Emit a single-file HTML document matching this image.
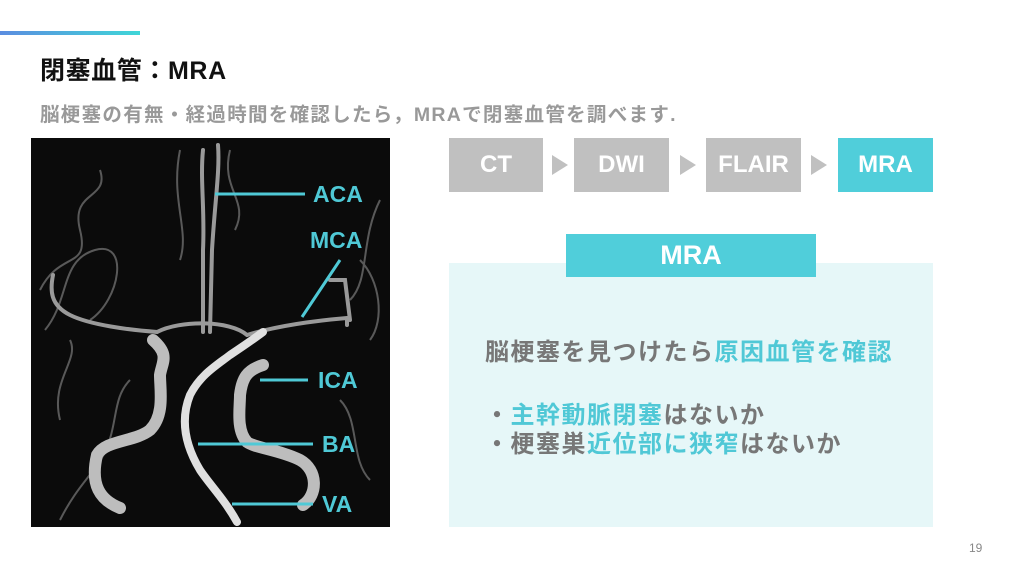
<!DOCTYPE html>
<html><head><meta charset="utf-8"><style>
*{margin:0;padding:0;box-sizing:border-box}
body{width:1024px;height:576px;background:#fff;position:relative;overflow:hidden;font-family:"Liberation Sans","Noto Sans CJK JP",sans-serif}
.a{position:absolute}
.bar{left:0;top:31px;width:140px;height:4px;background:linear-gradient(90deg,#5b8de0,#3fd6d8)}
.title{left:40px;top:51px;font-size:25px;font-weight:bold;color:#111;white-space:nowrap;letter-spacing:0.6px}
.sub{left:40px;top:98px;font-size:19.5px;font-weight:bold;color:#999;white-space:nowrap;letter-spacing:1.3px}
.step{top:138px;height:54px;background:#c0c0c0;color:#fff;font-weight:bold;font-size:24px;display:flex;align-items:center;justify-content:center}
.tri{top:155px;width:0;height:0;border-top:10px solid transparent;border-bottom:10px solid transparent;border-left:16px solid #c0c0c0}
.panel{left:449px;top:263px;width:484px;height:264px;background:#e6f7f8}
.tab{left:566px;top:234px;width:250px;height:43px;background:#50ceda;color:#fff;font-weight:bold;font-size:27px;display:flex;align-items:center;justify-content:center}
.t{font-size:24px;font-weight:bold;color:#777;white-space:nowrap;letter-spacing:1.5px}
.c{color:#50c8d6}
</style></head><body>
<div class="a bar"></div>
<div class="a title">閉塞血管：MRA</div>
<div class="a sub">脳梗塞の有無・経過時間を確認したら，MRAで閉塞血管を調べます.</div>

<svg class="a" style="left:31px;top:138px" width="359" height="389" viewBox="31 138 359 389">
<rect x="31" y="138" width="359" height="389" fill="#0b0b0b"/>
<g fill="none" stroke="#7a7a7a" stroke-width="2" opacity="0.7">
<path d="M40 290 C60 250 90 270 80 230 S110 200 100 170"/>
<path d="M45 330 C70 300 60 260 95 250 S120 300 90 320"/>
<path d="M60 420 C50 380 80 360 70 340"/>
<path d="M380 200 C360 240 370 280 350 300"/>
<path d="M360 260 C380 280 385 320 370 340"/>
<path d="M340 400 C360 420 350 460 370 480"/>
<path d="M100 460 C120 430 110 400 130 380"/>
<path d="M180 150 C170 200 190 230 180 260"/>
<path d="M230 150 C220 190 250 200 235 230"/>
<path d="M60 520 C80 480 100 470 110 440"/>
</g>
<g fill="none" stroke="#9a9a9a" stroke-width="4" stroke-linecap="round">
<path d="M157 332 C130 330 90 325 70 315 S50 290 53 275"/>
<path d="M247 335 C270 328 300 322 347 318 L347 325"/>
<path d="M203 332 L203 250 C205 210 200 180 203 150"/>
<path d="M210 332 L212 250 C215 200 220 170 218 145"/>
<path d="M157 332 C180 320 230 320 247 335"/>
<path d="M330 280 L345 280 L350 320"/>
</g>
<g fill="none" stroke="#bdbdbd" stroke-linecap="round">
<path stroke-width="12" d="M120 508 C100 500 90 485 97 455 C105 440 135 442 150 430 C165 415 160 390 160 375 C162 362 170 355 153 340"/>
<path stroke-width="12" d="M303 505 C318 495 318 470 300 460 C280 450 255 448 247 442 C236 430 240 408 240 395 C242 378 247 370 263 365"/>
<path stroke-width="8" stroke="#e0e0e0" d="M237 522 C225 500 210 485 200 470 C185 445 180 420 190 395 C200 375 217 365 230 355 C245 345 255 338 263 332"/>
</g>
<g stroke="#4fc9d6" stroke-width="3">
<line x1="215" y1="194" x2="305" y2="194"/>
<line x1="340" y1="260" x2="302" y2="317"/>
<line x1="260" y1="380" x2="308" y2="380"/>
<line x1="198" y1="444" x2="313" y2="444"/>
<line x1="232" y1="504" x2="313" y2="504"/>
</g>
<g fill="#4fc9d6" font-family="Liberation Sans,sans-serif" font-weight="bold" font-size="23">
<text x="313" y="202">ACA</text>
<text x="310" y="248">MCA</text>
<text x="318" y="388">ICA</text>
<text x="322" y="452">BA</text>
<text x="322" y="512">VA</text>
</g>
</svg>

<div class="a step" style="left:449px;width:94px">CT</div>
<div class="a tri" style="left:552px"></div>
<div class="a step" style="left:574px;width:95px">DWI</div>
<div class="a tri" style="left:680px"></div>
<div class="a step" style="left:706px;width:95px">FLAIR</div>
<div class="a tri" style="left:811px"></div>
<div class="a step" style="left:838px;width:95px;background:#50ceda">MRA</div>

<div class="a panel"></div>
<div class="a tab">MRA</div>
<div class="a t" style="left:485px;top:332px">脳梗塞を見つけたら<span class="c">原因血管を確認</span></div>
<div class="a t" style="left:485px;top:395px">・<span class="c">主幹動脈閉塞</span>はないか</div>
<div class="a t" style="left:485px;top:424px">・梗塞巣<span class="c">近位部に狭窄</span>はないか</div>
<div class="a" style="left:969px;top:541px;font-size:12px;color:#888">19</div>
</body></html>
